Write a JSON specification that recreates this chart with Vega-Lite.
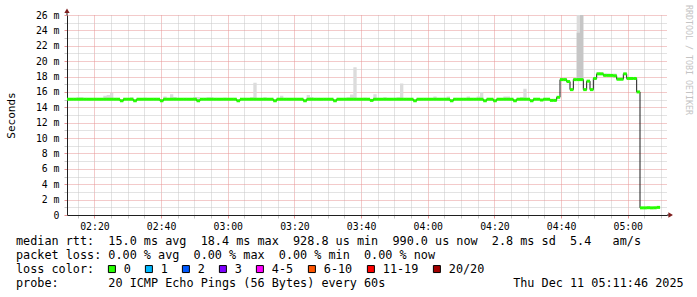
{
"$schema": "https://vega.github.io/schema/vega-lite/v6.json",
"width": 600, "height": 200,
"autosize": {"type": "none"},
"padding": {"left": 67, "top": 15, "right": 30, "bottom": 82},
"background": "white",
"config": {"view": {"stroke": null}, "font": "DejaVu Sans Mono"},
"title": {
 "text": [
  "median\u00a0rtt:\u00a0\u00a015.0\u00a0ms\u00a0avg\u00a0\u00a018.4\u00a0ms\u00a0max\u00a0\u00a0928.8\u00a0us\u00a0min\u00a0\u00a0990.0\u00a0us\u00a0now\u00a0\u00a02.8\u00a0ms\u00a0sd\u00a0\u00a05.4\u00a0\u00a0\u00a0am/s",
  "packet\u00a0loss:\u00a00.00\u00a0%\u00a0avg\u00a0\u00a00.00\u00a0%\u00a0max\u00a0\u00a00.00\u00a0%\u00a0min\u00a0\u00a00.00\u00a0%\u00a0now"
 ],
 "subtitle": "probe:\u00a0\u00a0\u00a0\u00a0\u00a0\u00a0\u00a020\u00a0ICMP\u00a0Echo\u00a0Pings\u00a0(56\u00a0Bytes)\u00a0every\u00a060s\u00a0\u00a0\u00a0\u00a0\u00a0\u00a0\u00a0\u00a0\u00a0\u00a0\u00a0\u00a0\u00a0\u00a0\u00a0\u00a0\u00a0\u00a0Thu\u00a0Dec\u00a011\u00a005:11:46\u00a02025",
 "orient": "bottom", "anchor": "start", "frame": "group",
 "font": "DejaVu Sans Mono", "fontSize": 11.8, "fontWeight": "normal", "color": "black",
 "lineHeight": 13.7, "offset": 6, "dx": -51, "dy": -46,
 "subtitleFont": "DejaVu Sans Mono", "subtitleFontSize": 11.8, "subtitleFontWeight": "normal", "subtitleColor": "black",
 "subtitleLineHeight": 13.7, "subtitlePadding": 16.5
},
"data": {"values": [
{"t":"2025-12-11T02:11:40Z","m":15.05,"h":15.15,"d":15.05,"l":"0"},
{"t":"2025-12-11T02:12:40Z","m":15.05,"h":15.15,"d":15.05,"l":"0"},
{"t":"2025-12-11T02:13:40Z","m":15.05,"h":15.15,"d":15.05,"l":"0"},
{"t":"2025-12-11T02:14:40Z","m":15.05,"h":15.3,"d":15.05,"l":"0"},
{"t":"2025-12-11T02:15:40Z","m":15.05,"h":15.3,"d":15.05,"l":"0"},
{"t":"2025-12-11T02:16:40Z","m":15.05,"h":15.15,"d":15.05,"l":"0"},
{"t":"2025-12-11T02:17:40Z","m":15.05,"h":15.15,"d":15.05,"l":"0"},
{"t":"2025-12-11T02:18:40Z","m":15.05,"h":15.15,"d":15.05,"l":"0"},
{"t":"2025-12-11T02:19:40Z","m":15.05,"h":15.15,"d":15.05,"l":"0"},
{"t":"2025-12-11T02:20:40Z","m":15.05,"h":15.15,"d":15.05,"l":"0"},
{"t":"2025-12-11T02:21:40Z","m":15.05,"h":15.15,"d":15.05,"l":"0"},
{"t":"2025-12-11T02:22:40Z","m":15.05,"h":15.5,"d":15.05,"l":"0"},
{"t":"2025-12-11T02:23:40Z","m":15.05,"h":15.6,"d":15.05,"l":"0"},
{"t":"2025-12-11T02:24:40Z","m":15.05,"h":15.9,"d":15.05,"l":"0"},
{"t":"2025-12-11T02:25:40Z","m":15.05,"h":15.15,"d":15.05,"l":"0"},
{"t":"2025-12-11T02:26:40Z","m":15.05,"h":15.15,"d":15.05,"l":"0"},
{"t":"2025-12-11T02:27:40Z","m":14.85,"h":14.95,"d":14.85,"l":"0"},
{"t":"2025-12-11T02:28:40Z","m":15.05,"h":15.15,"d":15.05,"l":"0"},
{"t":"2025-12-11T02:29:40Z","m":15.05,"h":15.15,"d":15.05,"l":"0"},
{"t":"2025-12-11T02:30:40Z","m":15.05,"h":15.3,"d":15.05,"l":"0"},
{"t":"2025-12-11T02:31:40Z","m":14.85,"h":14.95,"d":14.85,"l":"0"},
{"t":"2025-12-11T02:32:40Z","m":15.05,"h":15.15,"d":15.05,"l":"0"},
{"t":"2025-12-11T02:33:40Z","m":15.05,"h":15.15,"d":15.05,"l":"0"},
{"t":"2025-12-11T02:34:40Z","m":15.05,"h":15.25,"d":15.05,"l":"0"},
{"t":"2025-12-11T02:35:40Z","m":15.05,"h":15.15,"d":15.05,"l":"0"},
{"t":"2025-12-11T02:36:40Z","m":15.05,"h":15.15,"d":15.05,"l":"0"},
{"t":"2025-12-11T02:37:40Z","m":15.05,"h":15.15,"d":15.05,"l":"0"},
{"t":"2025-12-11T02:38:40Z","m":15.05,"h":15.15,"d":15.05,"l":"0"},
{"t":"2025-12-11T02:39:40Z","m":14.85,"h":14.95,"d":14.85,"l":"0"},
{"t":"2025-12-11T02:40:40Z","m":15.05,"h":15.4,"d":15.05,"l":"0"},
{"t":"2025-12-11T02:41:40Z","m":15.05,"h":15.15,"d":15.05,"l":"0"},
{"t":"2025-12-11T02:42:40Z","m":15.05,"h":15.7,"d":15.05,"l":"0"},
{"t":"2025-12-11T02:43:40Z","m":15.05,"h":15.35,"d":15.05,"l":"0"},
{"t":"2025-12-11T02:44:40Z","m":15.05,"h":15.15,"d":15.05,"l":"0"},
{"t":"2025-12-11T02:45:40Z","m":15.05,"h":15.15,"d":15.05,"l":"0"},
{"t":"2025-12-11T02:46:40Z","m":15.05,"h":15.15,"d":15.05,"l":"0"},
{"t":"2025-12-11T02:47:40Z","m":15.05,"h":15.15,"d":15.05,"l":"0"},
{"t":"2025-12-11T02:48:40Z","m":15.05,"h":15.15,"d":15.05,"l":"0"},
{"t":"2025-12-11T02:49:40Z","m":15.05,"h":15.35,"d":15.05,"l":"0"},
{"t":"2025-12-11T02:50:40Z","m":14.85,"h":15.35,"d":14.85,"l":"0"},
{"t":"2025-12-11T02:51:40Z","m":15.05,"h":15.15,"d":15.05,"l":"0"},
{"t":"2025-12-11T02:52:40Z","m":15.05,"h":15.15,"d":15.05,"l":"0"},
{"t":"2025-12-11T02:53:40Z","m":15.05,"h":15.3,"d":15.05,"l":"0"},
{"t":"2025-12-11T02:54:40Z","m":15.05,"h":15.3,"d":15.05,"l":"0"},
{"t":"2025-12-11T02:55:40Z","m":15.05,"h":15.15,"d":15.05,"l":"0"},
{"t":"2025-12-11T02:56:40Z","m":15.05,"h":15.15,"d":15.05,"l":"0"},
{"t":"2025-12-11T02:57:40Z","m":15.05,"h":15.15,"d":15.05,"l":"0"},
{"t":"2025-12-11T02:58:40Z","m":15.05,"h":15.25,"d":15.05,"l":"0"},
{"t":"2025-12-11T02:59:40Z","m":15.05,"h":15.15,"d":15.05,"l":"0"},
{"t":"2025-12-11T03:00:40Z","m":15.05,"h":15.15,"d":15.05,"l":"0"},
{"t":"2025-12-11T03:01:40Z","m":15.05,"h":15.15,"d":15.05,"l":"0"},
{"t":"2025-12-11T03:02:40Z","m":14.85,"h":14.95,"d":14.85,"l":"0"},
{"t":"2025-12-11T03:03:40Z","m":15.05,"h":15.15,"d":15.05,"l":"0"},
{"t":"2025-12-11T03:04:40Z","m":15.05,"h":15.15,"d":15.05,"l":"0"},
{"t":"2025-12-11T03:05:40Z","m":15.05,"h":15.15,"d":15.05,"l":"0"},
{"t":"2025-12-11T03:06:40Z","m":15.05,"h":15.3,"d":15.05,"l":"0"},
{"t":"2025-12-11T03:07:40Z","m":15.05,"h":17.2,"d":15.05,"l":"0"},
{"t":"2025-12-11T03:08:40Z","m":15.05,"h":15.15,"d":15.05,"l":"0"},
{"t":"2025-12-11T03:09:40Z","m":15.05,"h":15.15,"d":15.05,"l":"0"},
{"t":"2025-12-11T03:10:40Z","m":15.05,"h":15.3,"d":15.05,"l":"0"},
{"t":"2025-12-11T03:11:40Z","m":15.05,"h":15.15,"d":15.05,"l":"0"},
{"t":"2025-12-11T03:12:40Z","m":15.05,"h":15.15,"d":15.05,"l":"0"},
{"t":"2025-12-11T03:13:40Z","m":14.85,"h":14.95,"d":14.85,"l":"0"},
{"t":"2025-12-11T03:14:40Z","m":15.05,"h":15.15,"d":15.05,"l":"0"},
{"t":"2025-12-11T03:15:40Z","m":15.05,"h":15.5,"d":15.05,"l":"0"},
{"t":"2025-12-11T03:16:40Z","m":15.05,"h":15.15,"d":15.05,"l":"0"},
{"t":"2025-12-11T03:17:40Z","m":15.05,"h":15.15,"d":15.05,"l":"0"},
{"t":"2025-12-11T03:18:40Z","m":15.05,"h":15.15,"d":15.05,"l":"0"},
{"t":"2025-12-11T03:19:40Z","m":15.05,"h":15.15,"d":15.05,"l":"0"},
{"t":"2025-12-11T03:20:40Z","m":15.05,"h":15.15,"d":15.05,"l":"0"},
{"t":"2025-12-11T03:21:40Z","m":15.05,"h":15.15,"d":15.05,"l":"0"},
{"t":"2025-12-11T03:22:40Z","m":14.85,"h":14.95,"d":14.85,"l":"0"},
{"t":"2025-12-11T03:23:40Z","m":15.05,"h":15.6,"d":15.05,"l":"0"},
{"t":"2025-12-11T03:24:40Z","m":15.05,"h":15.35,"d":15.05,"l":"0"},
{"t":"2025-12-11T03:25:40Z","m":15.05,"h":15.15,"d":15.05,"l":"0"},
{"t":"2025-12-11T03:26:40Z","m":15.05,"h":15.15,"d":15.05,"l":"0"},
{"t":"2025-12-11T03:27:40Z","m":15.05,"h":15.15,"d":15.05,"l":"0"},
{"t":"2025-12-11T03:28:40Z","m":15.05,"h":15.15,"d":15.05,"l":"0"},
{"t":"2025-12-11T03:29:40Z","m":15.05,"h":15.15,"d":15.05,"l":"0"},
{"t":"2025-12-11T03:30:40Z","m":15.05,"h":15.15,"d":15.05,"l":"0"},
{"t":"2025-12-11T03:31:40Z","m":14.85,"h":14.95,"d":14.85,"l":"0"},
{"t":"2025-12-11T03:32:40Z","m":15.05,"h":15.15,"d":15.05,"l":"0"},
{"t":"2025-12-11T03:33:40Z","m":15.05,"h":15.15,"d":15.05,"l":"0"},
{"t":"2025-12-11T03:34:40Z","m":15.05,"h":15.15,"d":15.05,"l":"0"},
{"t":"2025-12-11T03:35:40Z","m":15.05,"h":15.3,"d":15.05,"l":"0"},
{"t":"2025-12-11T03:36:40Z","m":15.05,"h":15.65,"d":15.05,"l":"0"},
{"t":"2025-12-11T03:37:40Z","m":15.05,"h":19.2,"d":15.05,"l":"0"},
{"t":"2025-12-11T03:38:40Z","m":15.05,"h":15.15,"d":15.05,"l":"0"},
{"t":"2025-12-11T03:39:40Z","m":15.05,"h":15.15,"d":15.05,"l":"0"},
{"t":"2025-12-11T03:40:40Z","m":15.05,"h":15.25,"d":15.05,"l":"0"},
{"t":"2025-12-11T03:41:40Z","m":15.05,"h":15.15,"d":15.05,"l":"0"},
{"t":"2025-12-11T03:42:40Z","m":14.9,"h":15.0,"d":14.9,"l":"0"},
{"t":"2025-12-11T03:43:40Z","m":15.05,"h":15.7,"d":15.05,"l":"0"},
{"t":"2025-12-11T03:44:40Z","m":15.05,"h":15.15,"d":15.05,"l":"0"},
{"t":"2025-12-11T03:45:40Z","m":15.05,"h":15.15,"d":15.05,"l":"0"},
{"t":"2025-12-11T03:46:40Z","m":15.05,"h":15.3,"d":15.05,"l":"0"},
{"t":"2025-12-11T03:47:40Z","m":15.05,"h":15.15,"d":15.05,"l":"0"},
{"t":"2025-12-11T03:48:40Z","m":15.05,"h":15.15,"d":15.05,"l":"0"},
{"t":"2025-12-11T03:49:40Z","m":15.05,"h":15.15,"d":15.05,"l":"0"},
{"t":"2025-12-11T03:50:40Z","m":15.05,"h":15.3,"d":15.05,"l":"0"},
{"t":"2025-12-11T03:51:40Z","m":15.05,"h":17.1,"d":15.05,"l":"0"},
{"t":"2025-12-11T03:52:40Z","m":15.05,"h":15.15,"d":15.05,"l":"0"},
{"t":"2025-12-11T03:53:40Z","m":15.05,"h":15.15,"d":15.05,"l":"0"},
{"t":"2025-12-11T03:54:40Z","m":15.05,"h":15.15,"d":15.05,"l":"0"},
{"t":"2025-12-11T03:55:40Z","m":14.85,"h":14.95,"d":14.85,"l":"0"},
{"t":"2025-12-11T03:56:40Z","m":15.05,"h":15.15,"d":15.05,"l":"0"},
{"t":"2025-12-11T03:57:40Z","m":15.05,"h":15.15,"d":15.05,"l":"0"},
{"t":"2025-12-11T03:58:40Z","m":15.05,"h":15.15,"d":15.05,"l":"0"},
{"t":"2025-12-11T03:59:40Z","m":15.05,"h":15.15,"d":15.05,"l":"0"},
{"t":"2025-12-11T04:00:40Z","m":15.05,"h":15.15,"d":15.05,"l":"0"},
{"t":"2025-12-11T04:01:40Z","m":15.05,"h":15.4,"d":15.05,"l":"0"},
{"t":"2025-12-11T04:02:40Z","m":15.05,"h":15.15,"d":15.05,"l":"0"},
{"t":"2025-12-11T04:03:40Z","m":15.05,"h":15.15,"d":15.05,"l":"0"},
{"t":"2025-12-11T04:04:40Z","m":15.05,"h":15.15,"d":15.05,"l":"0"},
{"t":"2025-12-11T04:05:40Z","m":15.05,"h":15.4,"d":15.05,"l":"0"},
{"t":"2025-12-11T04:06:40Z","m":14.85,"h":14.95,"d":14.85,"l":"0"},
{"t":"2025-12-11T04:07:40Z","m":15.05,"h":15.15,"d":15.05,"l":"0"},
{"t":"2025-12-11T04:08:40Z","m":15.05,"h":15.15,"d":15.05,"l":"0"},
{"t":"2025-12-11T04:09:40Z","m":15.05,"h":15.15,"d":15.05,"l":"0"},
{"t":"2025-12-11T04:10:40Z","m":15.05,"h":15.15,"d":15.05,"l":"0"},
{"t":"2025-12-11T04:11:40Z","m":15.05,"h":15.4,"d":15.05,"l":"0"},
{"t":"2025-12-11T04:12:40Z","m":15.05,"h":15.15,"d":15.05,"l":"0"},
{"t":"2025-12-11T04:13:40Z","m":15.05,"h":15.15,"d":15.05,"l":"0"},
{"t":"2025-12-11T04:14:40Z","m":15.05,"h":15.4,"d":15.05,"l":"0"},
{"t":"2025-12-11T04:15:40Z","m":15.05,"h":16.0,"d":15.05,"l":"0"},
{"t":"2025-12-11T04:16:40Z","m":14.85,"h":14.95,"d":14.85,"l":"0"},
{"t":"2025-12-11T04:17:40Z","m":15.05,"h":15.15,"d":15.05,"l":"0"},
{"t":"2025-12-11T04:18:40Z","m":15.05,"h":15.15,"d":15.05,"l":"0"},
{"t":"2025-12-11T04:19:40Z","m":14.85,"h":14.95,"d":14.85,"l":"0"},
{"t":"2025-12-11T04:20:40Z","m":15.05,"h":15.15,"d":15.05,"l":"0"},
{"t":"2025-12-11T04:21:40Z","m":15.05,"h":15.15,"d":15.05,"l":"0"},
{"t":"2025-12-11T04:22:40Z","m":15.05,"h":15.4,"d":15.05,"l":"0"},
{"t":"2025-12-11T04:23:40Z","m":15.05,"h":15.4,"d":15.05,"l":"0"},
{"t":"2025-12-11T04:24:40Z","m":15.05,"h":15.15,"d":15.05,"l":"0"},
{"t":"2025-12-11T04:25:40Z","m":14.85,"h":14.95,"d":14.85,"l":"0"},
{"t":"2025-12-11T04:26:40Z","m":15.05,"h":15.15,"d":15.05,"l":"0"},
{"t":"2025-12-11T04:27:40Z","m":15.05,"h":15.35,"d":15.05,"l":"0"},
{"t":"2025-12-11T04:28:40Z","m":15.05,"h":16.4,"d":15.05,"l":"0"},
{"t":"2025-12-11T04:29:40Z","m":15.05,"h":15.15,"d":15.05,"l":"0"},
{"t":"2025-12-11T04:30:40Z","m":14.85,"h":14.95,"d":14.85,"l":"0"},
{"t":"2025-12-11T04:31:40Z","m":15.05,"h":15.15,"d":15.05,"l":"0"},
{"t":"2025-12-11T04:32:40Z","m":15.05,"h":15.15,"d":15.05,"l":"0"},
{"t":"2025-12-11T04:33:40Z","m":14.95,"h":15.05,"d":14.95,"l":"0"},
{"t":"2025-12-11T04:34:40Z","m":15.05,"h":15.15,"d":15.05,"l":"0"},
{"t":"2025-12-11T04:35:40Z","m":15.05,"h":15.15,"d":15.05,"l":"0"},
{"t":"2025-12-11T04:36:40Z","m":14.9,"h":15.0,"d":14.9,"l":"0"},
{"t":"2025-12-11T04:37:40Z","m":14.9,"h":15.0,"d":14.9,"l":"0"},
{"t":"2025-12-11T04:38:40Z","m":15.3,"h":15.4,"d":15.3,"l":"0"},
{"t":"2025-12-11T04:39:40Z","m":17.6,"h":17.8,"d":17.6,"l":"0"},
{"t":"2025-12-11T04:40:40Z","m":17.6,"h":17.8,"d":17.6,"l":"0"},
{"t":"2025-12-11T04:41:40Z","m":17.35,"h":17.5,"d":17.35,"l":"0"},
{"t":"2025-12-11T04:42:40Z","m":16.3,"h":16.4,"d":16.3,"l":"0"},
{"t":"2025-12-11T04:43:40Z","m":17.6,"h":17.7,"d":17.6,"l":"0"},
{"t":"2025-12-11T04:44:40Z","m":17.6,"h":27,"d":23.7,"l":"0"},
{"t":"2025-12-11T04:45:40Z","m":17.6,"h":27,"d":27,"l":"0"},
{"t":"2025-12-11T04:46:40Z","m":16.3,"h":16.4,"d":16.3,"l":"0"},
{"t":"2025-12-11T04:47:40Z","m":17.4,"h":17.5,"d":17.4,"l":"0"},
{"t":"2025-12-11T04:48:40Z","m":16.3,"h":16.4,"d":16.3,"l":"0"},
{"t":"2025-12-11T04:49:40Z","m":17.75,"h":17.85,"d":17.75,"l":"0"},
{"t":"2025-12-11T04:50:40Z","m":18.35,"h":18.55,"d":18.35,"l":"0"},
{"t":"2025-12-11T04:51:40Z","m":18.35,"h":18.5,"d":18.35,"l":"0"},
{"t":"2025-12-11T04:52:40Z","m":18.15,"h":18.4,"d":18.15,"l":"0"},
{"t":"2025-12-11T04:53:40Z","m":18.15,"h":18.35,"d":18.15,"l":"0"},
{"t":"2025-12-11T04:54:40Z","m":18.15,"h":18.25,"d":18.15,"l":"0"},
{"t":"2025-12-11T04:55:40Z","m":18.1,"h":18.4,"d":18.1,"l":"0"},
{"t":"2025-12-11T04:56:40Z","m":17.65,"h":17.9,"d":17.65,"l":"0"},
{"t":"2025-12-11T04:57:40Z","m":17.65,"h":17.75,"d":17.65,"l":"0"},
{"t":"2025-12-11T04:58:40Z","m":18.35,"h":18.45,"d":18.35,"l":"0"},
{"t":"2025-12-11T04:59:40Z","m":17.75,"h":17.85,"d":17.75,"l":"0"},
{"t":"2025-12-11T05:00:40Z","m":17.75,"h":17.85,"d":17.75,"l":"0"},
{"t":"2025-12-11T05:01:40Z","m":17.75,"h":17.85,"d":17.75,"l":"0"},
{"t":"2025-12-11T05:02:40Z","m":16.0,"h":16.1,"d":16.0,"l":"0"},
{"t":"2025-12-11T05:03:40Z","m":0.93,"h":1.0,"d":0.93,"l":"0"},
{"t":"2025-12-11T05:04:40Z","m":0.93,"h":1.0,"d":0.93,"l":"0"},
{"t":"2025-12-11T05:05:40Z","m":0.95,"h":1.05,"d":0.95,"l":"0"},
{"t":"2025-12-11T05:06:40Z","m":0.93,"h":1.05,"d":0.93,"l":"0"},
{"t":"2025-12-11T05:07:40Z","m":0.94,"h":1.0,"d":0.94,"l":"0"},
{"t":"2025-12-11T05:08:40Z","m":0.99,"h":1.05,"d":0.99,"l":"0"}
]},
"layer": [
 {
  "mark": {"type": "area", "interpolate": "step-after", "color": "#dcdcdc", "opacity": 1, "clip": true},
  "encoding": {
   "x": {"field": "t", "type": "temporal",
    "scale": {"type": "utc", "domain": [1765419106000, 1765429906000]},
    "axis": {"title": null, "tickCount": 100,
     "values": [1765419300000,1765419600000,1765419900000,1765420200000,1765420500000,1765420800000,1765421100000,1765421400000,1765421700000,1765422000000,1765422300000,1765422600000,1765422900000,1765423200000,1765423500000,1765423800000,1765424100000,1765424400000,1765424700000,1765425000000,1765425300000,1765425600000,1765425900000,1765426200000,1765426500000,1765426800000,1765427100000,1765427400000,1765427700000,1765428000000,1765428300000,1765428600000,1765428900000,1765429200000,1765429500000,1765429800000],
     "labelExpr": "utcminutes(datum.value) % 20 == 0 ? utcFormat(datum.value, '%H:%M') : ''",
     "grid": true, "gridDash": [1, 1], "gridWidth": 1,
     "gridColor": {"condition": {"test": "utcminutes(datum.value) % 20 == 0", "value": "#e69494"}, "value": "#c6c6c6"},
     "tickSize": 3, "tickColor": {"condition": {"test": "utcminutes(datum.value) % 20 == 0", "value": "#e69494"}, "value": "#c6c6c6"},
     "domainColor": "#1f1f1f", "labelFont": "DejaVu Sans Mono", "labelFontSize": 9.8, "labelColor": "black",
     "labelPadding": 3, "labelOverlap": false, "labelFlush": false, "labelBound": false}},
   "y": {"field": "m", "type": "quantitative",
    "scale": {"domain": [0, 26], "nice": false, "zero": true},
    "axis": {"title": "Seconds", "tickCount": 100, "values": [0,1,2,3,4,5,6,7,8,9,10,11,12,13,14,15,16,17,18,19,20,21,22,23,24,25,26],
     "labelExpr": "datum.value % 2 == 0 ? (datum.value == 0 ? '0' : datum.value + ' m') : ''",
     "grid": true, "gridDash": [1, 1], "gridWidth": 1,
     "gridColor": {"condition": {"test": "datum.value % 2 == 0", "value": "#e69494"}, "value": "#c6c6c6"},
     "tickSize": 3, "tickColor": {"condition": {"test": "datum.value % 2 == 0", "value": "#e69494"}, "value": "#c6c6c6"},
     "domainColor": "#1f1f1f", "labelFont": "DejaVu Sans Mono", "labelFontSize": 9.8, "labelColor": "black",
     "labelPadding": 5, "labelBaseline": "middle", "labelOverlap": false,
     "titleX": -56, "titleY": 100, "titleAngle": 270, "titleAlign": "center", "titleBaseline": "middle",
     "titleFont": "DejaVu Sans Mono", "titleFontSize": 11, "titleFontWeight": "normal", "titleColor": "black"}},
   "y2": {"field": "h"}
  }
 },
 {
  "mark": {"type": "area", "interpolate": "step-after", "color": "#c6c6c6", "opacity": 1, "clip": true},
  "encoding": {
   "x": {"field": "t", "type": "temporal"},
   "y": {"field": "m", "type": "quantitative"},
   "y2": {"field": "d"}
  }
 },
 {
  "mark": {"type": "line", "interpolate": "step-after", "color": "#1a1a1a", "strokeWidth": 1, "clip": true},
  "encoding": {
   "x": {"field": "t", "type": "temporal"},
   "y": {"field": "m", "type": "quantitative"}
  }
 },
 {
  "mark": {"type": "tick", "orient": "horizontal", "thickness": 3, "size": 3.5, "xOffset": 1.67, "clip": true, "opacity": 1},
  "encoding": {
   "x": {"field": "t", "type": "temporal"},
   "y": {"field": "m", "type": "quantitative"},
   "color": {"field": "l", "type": "nominal",
    "scale": {"domain": ["0","1","2","3","4-5","6-10","11-19","20/20"],
              "range": ["#26ff00","#00b8ff","#0059ff","#7e00ff","#ff00ff","#ff5500","#ff0000","#a10000"]},
    "legend": {"orient": "none", "legendX": -51, "legendY": 248, "direction": "horizontal",
     "title": "loss\u00a0color:", "titleOrient": "left", "titleAnchor": "middle", "titleBaseline": "middle", "titlePadding": 11,
     "titleFont": "DejaVu Sans Mono", "titleFontSize": 11.8, "titleFontWeight": "normal", "titleColor": "black",
     "symbolType": "square", "symbolSize": 49, "symbolStrokeColor": "black", "symbolStrokeWidth": 1, "symbolOpacity": 1,
     "labelFont": "DejaVu Sans Mono", "labelFontSize": 11.8, "labelColor": "black", "labelOffset": 6,
     "columnPadding": 12, "padding": 0}}
  }
 },
 {
  "data": {"values": [
   {"t": "2025-12-11T02:11:46Z", "t2": "2025-12-11T02:11:46Z", "v": 26, "v2": 26.4},
   {"t": "2025-12-11T05:11:46Z", "t2": "2025-12-11T05:12:40Z", "v": 0, "v2": 0}
  ]},
  "mark": {"type": "rule", "color": "#1f1f1f", "strokeWidth": 1, "clip": false},
  "encoding": {
   "x": {"field": "t", "type": "temporal"},
   "x2": {"field": "t2"},
   "y": {"field": "v", "type": "quantitative"},
   "y2": {"field": "v2"}
  }
 },
 {
  "data": {"values": [{"t": "2025-12-11T02:11:46Z", "v": 26.56}]},
  "mark": {"type": "point", "shape": "triangle-up", "filled": true, "color": "#7f1f1f", "size": 28, "opacity": 1, "clip": false},
  "encoding": {
   "x": {"field": "t", "type": "temporal"},
   "y": {"field": "v", "type": "quantitative"}
  }
 },
 {
  "data": {"values": [{"t": "2025-12-11T05:12:52Z", "v": 0}]},
  "mark": {"type": "point", "shape": "triangle-right", "filled": true, "color": "#7f1f1f", "size": 28, "opacity": 1, "clip": false},
  "encoding": {
   "x": {"field": "t", "type": "temporal"},
   "y": {"field": "v", "type": "quantitative"}
  }
 },
 {
  "data": {"values": [{"t": "2025-12-11T05:17:55Z", "v": 20.15, "txt": "RRDTOOL / TOBI OETIKER"}]},
  "mark": {"type": "text", "angle": 90, "align": "center", "baseline": "middle", "font": "DejaVu Sans Mono", "fontSize": 8.3, "color": "#c4c4c4", "clip": false},
  "encoding": {
   "x": {"field": "t", "type": "temporal"},
   "y": {"field": "v", "type": "quantitative"},
   "text": {"field": "txt"}
  }
 }
]
}
